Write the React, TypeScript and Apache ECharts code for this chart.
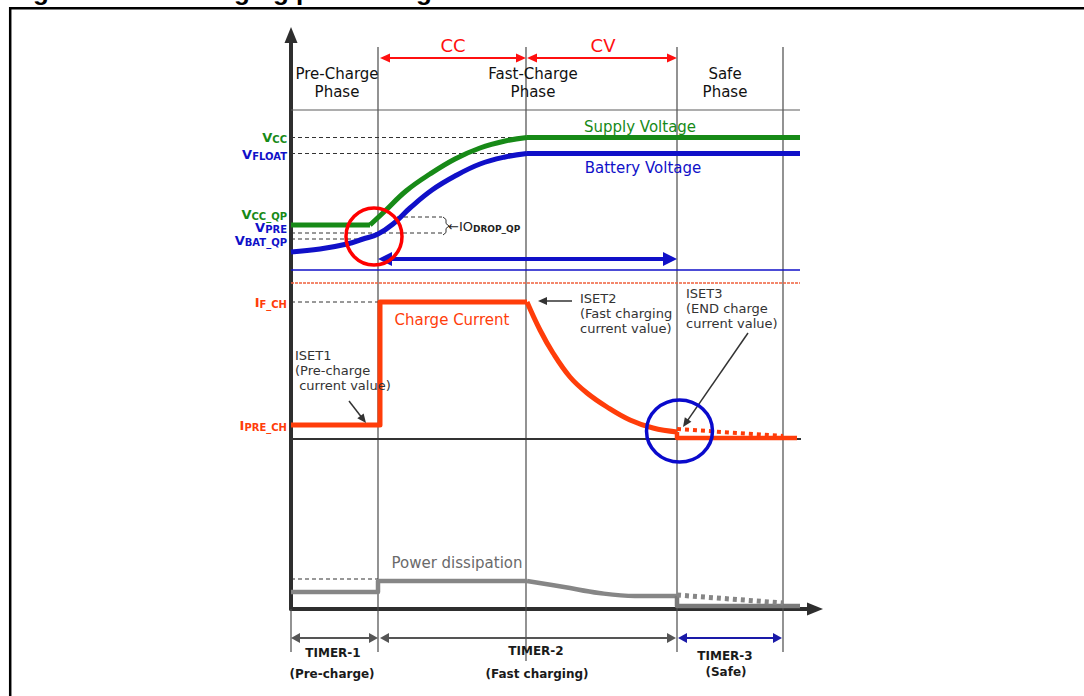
import React, { useEffect, useRef } from "react";
import * as echarts from "echarts";

// ---- data (x: time in a.u., y: signal level in a.u.) ----
const phaseBoundaries = [87, 235, 386, 492];
const supplyFlatPre = [[0, 384], [79, 384]];
const supplyRise = [[79, 384], [94, 398], [115, 418], [139, 435], [164, 450], [189, 461], [214, 468], [236, 471.5]];
const supplyFlatPost = [[236, 471.5], [509, 471.5]];
const batteryRise = [[0, 357], [29, 360], [56, 365], [72, 370], [87, 375], [102, 385], [119, 401], [141, 419], [164, 433], [189, 445], [214, 452], [236, 455.5]];
const batteryFlat = [[236, 455.5], [509, 455.5]];
const currentStep = [[0, 184], [89, 184], [89, 307], [236, 307]];
const currentTaper = [[236, 307], [249, 279], [262, 256], [279, 232], [296, 216], [316, 202], [339, 189], [362, 181], [386, 177]];
const currentEnd = [[386, 177], [386, 171], [506, 171]];
const currentSafe = [[386, 180], [492, 173]];
const powerStep = [[0, 17], [87, 17], [87, 28], [236, 28]];
const powerTaper = [[236, 28], [273, 22], [308, 16], [344, 13], [386, 13]];
const powerEnd = [[386, 13], [386, 3], [509, 3]];
const powerSafe = [[386, 14], [492, 6]];
const levels = { VCC: 471.5, VFLOAT: 455.5, VPRE: 376, VBAT_QP: 370, IODROP_TOP: 392, IF_CH: 307, P_FAST: 30 };
const refLines = { top: 499, blue: 339, red: 326, currentBase: 170 };
const xEnd = 509;

const GREEN = "#178a17";
const BLUE = "#1010c8";
const ORANGE = "#ff3d0a";
const GRAY = "#868686";
const RED = "#ff1010";
const FONT = '"DejaVu Sans", Verdana, sans-serif';

export default function App() {
  const ref = useRef<HTMLDivElement>(null);
  useEffect(() => {
    const el = ref.current!;
    const chart = echarts.init(el, null, { renderer: "svg" });

    const ln = (data: number[][], color: string, width: number, o: any = {}) => ({
      type: "line",
      data,
      symbol: "none",
      showSymbol: false,
      smooth: o.smooth || false,
      clip: false,
      silent: true,
      z: o.z ?? 3,
      lineStyle: { color, width, type: o.type || "solid", cap: o.cap || "butt", join: "round" },
    });

    const series: any[] = [];
    phaseBoundaries.forEach((x, i) => {
      series.push(ln([[x, 562], [x, i === 1 ? -52 : -43]], "#4a4a4a", 1.2, { z: 1 }));
    });
    series.push(ln([[0, 0], [0, -43]], "#4a4a4a", 1.2, { z: 1 }));
    series.push(ln([[0, refLines.top], [xEnd, refLines.top]], "#5c5c5c", 1.2, { z: 1 }));
    series.push(ln([[0, refLines.blue], [xEnd, refLines.blue]], BLUE, 1.4, { z: 1 }));
    series.push(ln([[0, refLines.red], [xEnd, refLines.red]], "#f0603c", 1.6, { z: 1, type: [3, 1] }));
    series.push(ln([[0, refLines.currentBase], [xEnd + 1, refLines.currentBase]], "#333", 2, { z: 1 }));
    const dash = [4, 3];
    series.push(ln([[0, levels.VCC], [232, levels.VCC]], "#333", 1, { z: 1, type: dash }));
    series.push(ln([[0, levels.VFLOAT], [232, levels.VFLOAT]], "#333", 1, { z: 1, type: dash }));
    series.push(ln([[0, levels.VPRE], [151, levels.VPRE]], "#333", 1, { z: 1, type: dash }));
    series.push(ln([[0, levels.VBAT_QP], [72, levels.VBAT_QP]], "#333", 1, { z: 1, type: dash }));
    series.push(ln([[106, levels.IODROP_TOP], [151, levels.IODROP_TOP]], "#333", 1, { z: 1, type: dash }));
    series.push(ln([[0, levels.IF_CH], [89, levels.IF_CH]], "#333", 1, { z: 1, type: dash }));
    series.push(ln([[0, levels.P_FAST], [87, levels.P_FAST]], "#333", 1.2, { z: 1, type: dash }));
    // curves
    series.push(ln(supplyFlatPre, GREEN, 5));
    series.push(ln(supplyRise, GREEN, 5, { smooth: 0.4 }));
    series.push(ln(supplyFlatPost, GREEN, 5));
    series.push(ln(batteryRise, BLUE, 5, { smooth: 0.4 }));
    series.push(ln(batteryFlat, BLUE, 5));
    series.push(ln(currentStep, ORANGE, 5));
    series.push(ln(currentTaper, ORANGE, 5, { smooth: 0.4 }));
    series.push(ln(currentEnd, ORANGE, 4.5));
    series.push(ln(currentSafe, ORANGE, 4, { type: [4, 4] }));
    series.push(ln(powerStep, GRAY, 4.5));
    series.push(ln(powerTaper, GRAY, 4.5, { smooth: 0.4 }));
    series.push(ln(powerEnd, "#7a7a7a", 4.5));
    series.push(ln(powerSafe, GRAY, 5, { type: [4, 4] }));

    chart.setOption({
      animation: false,
      grid: { left: 291, top: 35, right: 269, bottom: 87 },
      xAxis: {
        type: "value", min: 0, max: 524,
        axisLine: { show: true, onZero: false, symbol: ["none", "triangle"], symbolSize: [13, 16], lineStyle: { color: "#2e2e2e", width: 4 } },
        axisTick: { show: false }, axisLabel: { show: false }, splitLine: { show: false },
      },
      yAxis: {
        type: "value", min: 0, max: 574,
        axisLine: { show: true, onZero: false, symbol: ["none", "triangle"], symbolSize: [13, 16], lineStyle: { color: "#2e2e2e", width: 4 } },
        axisTick: { show: false }, axisLabel: { show: false }, splitLine: { show: false },
      },
      series,
    });

    const P = (x: number, y: number) => chart.convertToPixel({ gridIndex: 0 }, [x, y]) as number[];

    const arrow = (a: number[], b: number[], color: string, width: number, head: number, half: number, both: boolean) => {
      const p1 = P(a[0], a[1]), p2 = P(b[0], b[1]);
      const dx = p2[0] - p1[0], dy = p2[1] - p1[1];
      const L = Math.hypot(dx, dy);
      const ux = dx / L, uy = dy / L, nx = -uy, ny = ux;
      const s = both ? [p1[0] + ux * head * 0.7, p1[1] + uy * head * 0.7] : p1;
      const e = [p2[0] - ux * head * 0.7, p2[1] - uy * head * 0.7];
      const hp = (t: number[], dxu: number, dyu: number) => ({
        type: "polygon", silent: true, z: 20,
        shape: { points: [[t[0], t[1]], [t[0] - dxu * head + nx * half, t[1] - dyu * head + ny * half], [t[0] - dxu * head - nx * half, t[1] - dyu * head - ny * half]] },
        style: { fill: color },
      });
      const els: any[] = [{ type: "line", silent: true, z: 20, shape: { x1: s[0], y1: s[1], x2: e[0], y2: e[1] }, style: { stroke: color, lineWidth: width } }];
      els.push(hp(p2, ux, uy));
      if (both) els.push(hp(p1, -ux, -uy));
      return els;
    };

    const txt = (x: number, y: number, text: string, o: any = {}) => {
      const p = P(x, y);
      return {
        type: "text", silent: true, z: 30, x: p[0], y: p[1],
        style: {
          text, fill: o.fill || "#111",
          fontFamily: o.family || FONT, fontSize: o.size || 13, fontWeight: o.weight || "normal",
          align: o.align || "center", verticalAlign: o.va || "middle",
          lineHeight: o.lh, rich: o.rich,
        },
      };
    };

    const sub = (color: string) => ({
      a: { fontFamily: FONT, fontSize: 13, fontWeight: "bold", fill: color, verticalAlign: "bottom", lineHeight: 14 },
      b: { fontFamily: FONT, fontSize: 10, fontWeight: "bold", fill: color, verticalAlign: "bottom", lineHeight: 12 },
    });

    const g: any[] = [];
    g.push({ type: "rect", silent: true, z: 0, shape: { x: 10.2, y: 8.2, width: 1200, height: 800 }, style: { fill: "none", stroke: "#000", lineWidth: 2.5 } });
    g.push({ type: "text", silent: true, z: 0, x: 10, y: -9, style: { text: "Figure 6. The charging phase diagram", fill: "#000", fontFamily: '"Liberation Sans", Arial, sans-serif', fontSize: 26, fontWeight: "bold", align: "left", verticalAlign: "middle" } });

    g.push(...arrow([89, 551], [235, 551], RED, 2, 10, 4.5, true));
    g.push(...arrow([236, 551], [386, 551], RED, 2, 10, 4.5, true));
    g.push(txt(162, 564, "CC", { fill: RED, size: 18 }));
    g.push(txt(312, 564, "CV", { fill: RED, size: 18 }));

    g.push(txt(46, 526, "Pre-Charge\nPhase", { size: 15, lh: 18 }));
    g.push(txt(242, 526, "Fast-Charge\nPhase", { size: 15, lh: 18 }));
    g.push(txt(434, 526, "Safe\nPhase", { size: 15, lh: 18 }));

    g.push(txt(349, 482, "Supply Voltage", { fill: GREEN, size: 15 }));
    g.push(txt(352, 441, "Battery Voltage", { fill: BLUE, size: 15 }));
    g.push(txt(161, 289, "Charge Current", { fill: ORANGE, size: 15 }));
    g.push(txt(166, 46, "Power dissipation", { fill: "#6a6a6a", size: 15 }));

    const lab = (y: number, main: string, s: string, color: string) =>
      g.push(txt(-4, y, `{a|${main}}{b|${s}}`, { align: "right", rich: sub(color) }));
    lab(472, "V", "CC", GREEN);
    lab(455, "V", "FLOAT", BLUE);
    lab(395, "V", "CC_QP", GREEN);
    lab(382, "V", "PRE", BLUE);
    lab(369, "V", "BAT_QP", BLUE);
    lab(307, "I", "F_CH", ORANGE);
    lab(184, "I", "PRE_CH", ORANGE);

    const rc = P(83, 372.5);
    g.push({ type: "ellipse", silent: true, z: 25, shape: { cx: rc[0], cy: rc[1], rx: 28, ry: 28.5 }, style: { fill: "none", stroke: "#ff0000", lineWidth: 3.5 } });
    const bc = P(388.5, 178);
    g.push({ type: "ellipse", silent: true, z: 25, shape: { cx: bc[0], cy: bc[1], rx: 33, ry: 31 }, style: { fill: "none", stroke: "#0a0acc", lineWidth: 3.5 } });

    const br = [[152, 392], [155, 389.5], [155, 385.5], [158, 383], [155, 380.5], [155, 376.5], [152, 374]].map((q) => P(q[0], q[1]));
    g.push({ type: "polyline", silent: true, z: 20, shape: { points: br }, style: { stroke: "#333", lineWidth: 1, fill: null } });
    g.push(txt(157, 383, "{c|←IO}{b|DROP_QP}", {
      align: "left",
      rich: {
        c: { fontFamily: FONT, fontSize: 13, fill: "#222", verticalAlign: "bottom", lineHeight: 14 },
        b: { fontFamily: FONT, fontSize: 9, fontWeight: "bold", fill: "#222", verticalAlign: "bottom", lineHeight: 12 },
      },
    }));

    g.push(...arrow([87, 350], [386, 350], BLUE, 4, 14, 7, true));

    g.push(txt(4, 261.5, "ISET1\n(Pre-charge\n current value)", { align: "left", va: "top", lh: 15, fill: "#333" }));
    g.push(txt(289, 318.5, "ISET2\n(Fast charging\ncurrent value)", { align: "left", va: "top", lh: 15, fill: "#333" }));
    g.push(txt(395, 323.5, "ISET3\n(END charge\ncurrent value)", { align: "left", va: "top", lh: 15, fill: "#333" }));
    g.push(...arrow([58, 208], [75, 186], "#333", 1.5, 9, 4, false));
    g.push(...arrow([281, 308], [247, 308], "#333", 1.5, 9, 4, false));
    g.push(...arrow([457, 276], [392, 182], "#333", 1.5, 9, 4, false));

    g.push(...arrow([0, -29], [87, -29], "#555", 2, 9, 5, true));
    g.push(...arrow([89, -29], [385, -29], "#555", 2, 9, 5, true));
    g.push(...arrow([387, -29], [491, -29], "#1a1aa8", 2, 9, 5, true));
    const tb = { weight: "bold", size: 12, fill: "#1a1a1a" };
    g.push(txt(42, -44, "TIMER-1", tb));
    g.push(txt(41, -65, "(Pre-charge)", tb));
    g.push(txt(245, -42, "TIMER-2", tb));
    g.push(txt(246, -65, "(Fast charging)", tb));
    g.push(txt(434, -47, "TIMER-3", tb));
    g.push(txt(435, -63, "(Safe)", tb));

    chart.setOption({ graphic: g });

    return () => chart.dispose();
  }, []);

  return <div ref={ref} style={{ position: "fixed", left: 0, top: 0, width: 1084, height: 696, background: "#fff" }} />;
}
